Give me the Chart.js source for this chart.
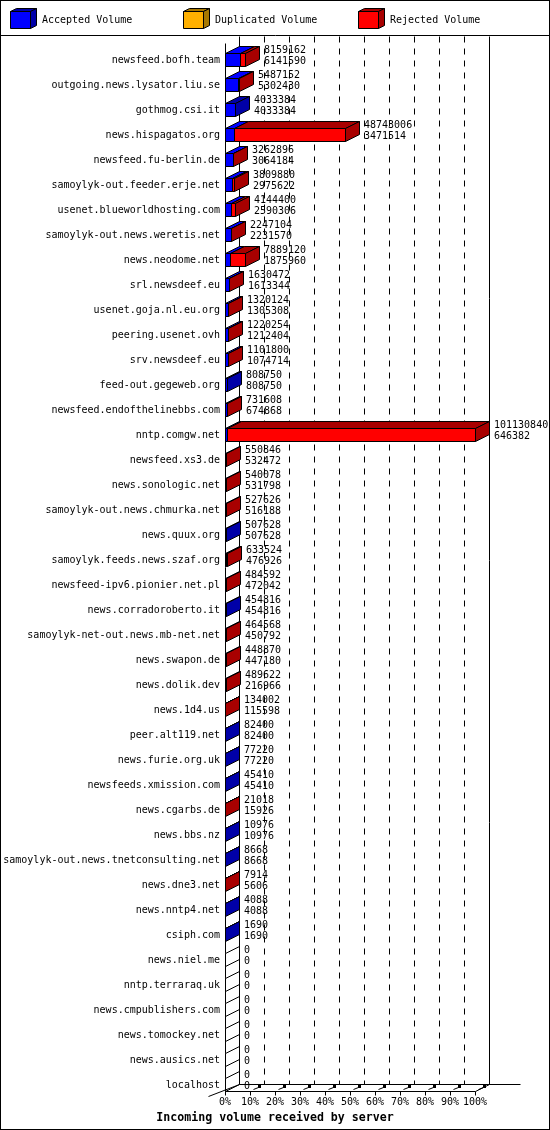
<!DOCTYPE html>
<html>
<head>
<meta charset="utf-8">
<script src="https://cdn.jsdelivr.net/npm/chart.js@4.4.0/dist/chart.umd.min.js"></script>
<style>
  html,
  body {
    margin: 0;
    padding: 0;
    background: #fff;
  }
  canvas {
    display: block;
  }
</style>
</head>
<body>
<canvas id="volumeChart" width="550" height="1130"></canvas>
<script>
const serverNames = [
  "newsfeed.bofh.team",
  "outgoing.news.lysator.liu.se",
  "gothmog.csi.it",
  "news.hispagatos.org",
  "newsfeed.fu-berlin.de",
  "samoylyk-out.feeder.erje.net",
  "usenet.blueworldhosting.com",
  "samoylyk-out.news.weretis.net",
  "news.neodome.net",
  "srl.newsdeef.eu",
  "usenet.goja.nl.eu.org",
  "peering.usenet.ovh",
  "srv.newsdeef.eu",
  "feed-out.gegeweb.org",
  "newsfeed.endofthelinebbs.com",
  "nntp.comgw.net",
  "newsfeed.xs3.de",
  "news.sonologic.net",
  "samoylyk-out.news.chmurka.net",
  "news.quux.org",
  "samoylyk.feeds.news.szaf.org",
  "newsfeed-ipv6.pionier.net.pl",
  "news.corradoroberto.it",
  "samoylyk-net-out.news.mb-net.net",
  "news.swapon.de",
  "news.dolik.dev",
  "news.1d4.us",
  "peer.alt119.net",
  "news.furie.org.uk",
  "newsfeeds.xmission.com",
  "news.cgarbs.de",
  "news.bbs.nz",
  "samoylyk-out.news.tnetconsulting.net",
  "news.dne3.net",
  "news.nntp4.net",
  "csiph.com",
  "news.niel.me",
  "nntp.terraraq.uk",
  "news.cmpublishers.com",
  "news.tomockey.net",
  "news.ausics.net",
  "localhost",
];

// first number printed next to each bar
const totalVolume = [
  8159162, 5487152, 4033384, 48743006, 3262896, 3809880, 4144400, 2247104,
  7889120, 1630472, 1320124, 1220254, 1101800, 808750, 731608, 101130840,
  550846, 540078, 527626, 507628, 633524, 484592, 454816, 464568, 448870,
  489622, 134002, 82400, 77220, 45410, 21018, 10976, 8668, 7914, 4088, 1690,
  0, 0, 0, 0, 0, 0,
];

// second number printed next to each bar
const acceptedVolume = [
  6141590, 5302430, 4033384, 3471514, 3064184, 2975622, 2590306, 2231570,
  1875960, 1613344, 1305308, 1212404, 1074714, 808750, 674868, 646382,
  532472, 531798, 516188, 507628, 476926, 472042, 454816, 450792, 447180,
  216966, 115598, 82400, 77220, 45410, 15926, 10976, 8668, 5606, 4088, 1690,
  0, 0, 0, 0, 0, 0,
];

const duplicatedVolume = [
  0, 0, 0, 0, 0, 0, 0, 0, 0, 0, 0, 0, 0, 0, 0, 0, 0, 0, 0, 0, 0,
  0, 0, 0, 0, 0, 0, 0, 0, 0, 0, 0, 0, 0, 0, 0, 0, 0, 0, 0, 0, 0,
];

const rejectedVolume = [
  2017572, 184722, 0, 45271492, 198712, 834258, 1554094, 15534,
  6013160, 17128, 14816, 7850, 27086, 0, 56740, 100484458,
  18374, 8280, 11438, 0, 156598, 12550, 0, 13776, 1690,
  272656, 18404, 0, 0, 0, 5092, 0, 0, 2308, 0, 0,
  0, 0, 0, 0, 0, 0,
];

const percentTicks = [0, 10, 20, 30, 40, 50, 60, 70, 80, 90, 100];

const maxVolume = Math.max(...totalVolume);

const FONT = '10px "DejaVu Sans Mono", monospace';
const TITLE_FONT = 'bold 11.6px "DejaVu Sans Mono", monospace';
const BAR_THICKNESS = 13;
const DEPTH_X = 14;
const DEPTH_Y = 7;
const WALL_TOP = 36;

//helper functions
const line = (ctx, x1, y1, x2, y2, dash = []) => {
  ctx.save();
  ctx.setLineDash(dash);
  ctx.strokeStyle = "#000";
  ctx.lineWidth = 1;
  ctx.beginPath();
  ctx.moveTo(x1 + 0.5, y1 + 0.5);
  ctx.lineTo(x2 + 0.5, y2 + 0.5);
  ctx.stroke();
  ctx.restore();
};

const shape = (ctx, points, fill) => {
  ctx.beginPath();
  points.forEach(([px, py], i) =>
    i === 0 ? ctx.moveTo(px + 0.5, py + 0.5) : ctx.lineTo(px + 0.5, py + 0.5)
  );
  ctx.closePath();
  if (fill) {
    ctx.fillStyle = fill;
    ctx.fill();
  }
  ctx.strokeStyle = "#000";
  ctx.lineWidth = 1;
  ctx.stroke();
};

const drawBox = (ctx, xa, xb, top, bottom, front, dark, isLast) => {
  shape(ctx, [[xa, top], [xb, top], [xb, bottom], [xa, bottom]], front);
  shape(
    ctx,
    [[xa, top], [xb, top], [xb + DEPTH_X, top - DEPTH_Y], [xa + DEPTH_X, top - DEPTH_Y]],
    isLast ? dark : front
  );
  if (isLast) {
    shape(
      ctx,
      [[xb, top], [xb + DEPTH_X, top - DEPTH_Y], [xb + DEPTH_X, bottom - DEPTH_Y], [xb, bottom]],
      dark
    );
  }
};

const floorY = (chart) =>
  Math.round(
    chart.scales.y.getPixelForValue(serverNames.length - 1) + BAR_THICKNESS / 2
  );

const volume3d = {
  id: "volume3d",
  beforeDraw(chart) {
    const { ctx, width, height } = chart;
    ctx.save();
    ctx.fillStyle = "#fff";
    ctx.fillRect(0, 0, width, height);
    ctx.restore();
  },
  beforeDatasetsDraw(chart) {
    const { ctx } = chart;
    const xs = chart.scales.x;
    const x0 = Math.round(xs.getPixelForValue(0));
    const floorFront = floorY(chart);
    const floorBack = floorFront - DEPTH_Y;

    // back wall grid
    percentTicks.slice(1).forEach((p) => {
      const gx = Math.round(xs.getPixelForValue((maxVolume * p) / 100)) + DEPTH_X;
      line(ctx, gx, WALL_TOP, gx, floorBack, p === 100 ? [] : [6, 6]);
    });
    line(ctx, x0 + DEPTH_X, WALL_TOP, x0 + DEPTH_X, floorBack);
    line(ctx, x0, WALL_TOP + DEPTH_Y, x0, floorFront);
  },
  afterDatasetsDraw(chart) {
    const { ctx } = chart;
    const xs = chart.scales.x;
    const datasets = chart.data.datasets;
    const x0 = Math.round(xs.getPixelForValue(0));

    ctx.save();
    serverNames.forEach((name, j) => {
      const elements = datasets.map((ds, i) => chart.getDatasetMeta(i).data[j]);
      const rowY = elements[0].y;
      const top = Math.round(rowY - elements[0].height / 2);
      const bottom = top + Math.round(elements[0].height);

      const segments = elements
        .map((el, i) => ({
          xa: Math.round(el.base),
          xb: Math.round(el.x),
          ds: datasets[i],
          value: datasets[i].data[j],
        }))
        .filter((s) => s.value > 0);

      if (segments.length === 0) {
        shape(ctx, [
          [x0, top],
          [x0 + DEPTH_X, top - DEPTH_Y],
          [x0 + DEPTH_X, bottom - DEPTH_Y],
          [x0, bottom],
        ]);
      } else {
        segments.forEach((s, k) =>
          drawBox(
            ctx,
            s.xa,
            s.xb,
            top,
            bottom,
            s.ds.frontColor,
            s.ds.sideColor,
            k === segments.length - 1
          )
        );
      }

      ctx.fillStyle = "#000";
      ctx.font = FONT;
      ctx.textBaseline = "middle";
      ctx.textAlign = "right";
      ctx.fillText(name, 220, Math.round(rowY) + 0.5);

      const textX = Math.round(xs.getPixelForValue(totalVolume[j])) + DEPTH_X + 5;
      ctx.textAlign = "left";
      ctx.fillText(String(totalVolume[j]), textX, Math.round(rowY - 9.5));
      ctx.fillText(String(acceptedVolume[j]), textX, Math.round(rowY + 1.5));
    });
    ctx.restore();
  },
  afterDraw(chart) {
    const { ctx, width, height } = chart;
    const xs = chart.scales.x;
    const x0 = Math.round(xs.getPixelForValue(0));
    const x100 = Math.round(xs.getPixelForValue(maxVolume));
    const floorFront = floorY(chart);
    const floorBack = floorFront - DEPTH_Y;

    // floor
    line(ctx, x0, floorFront, x100, floorFront);
    line(ctx, x0 + DEPTH_X, floorBack, x100 + DEPTH_X + 31, floorBack);
    line(ctx, x100, floorFront, x100 + DEPTH_X, floorBack);
    line(ctx, x0 - 17, floorFront + 5, x0 + DEPTH_X, floorBack);

    ctx.save();
    ctx.fillStyle = "#000";
    ctx.font = FONT;
    ctx.textAlign = "center";
    ctx.textBaseline = "middle";
    percentTicks.forEach((p) => {
      const tx = Math.round(xs.getPixelForValue((maxVolume * p) / 100));
      line(ctx, tx, floorFront, tx, floorFront + 4);
      if (p > 0) {
        line(ctx, tx + 3, floorFront - 2, tx + 8, floorFront - 4);
        ctx.fillRect(tx + 8, floorFront - 6, 3, 3);
      }
      ctx.fillText(`${p}%`, tx, floorFront + 11);
    });

    ctx.font = TITLE_FONT;
    ctx.fillText("Incoming volume received by server", width / 2, floorFront + 27);

    // legend
    const legendX = [10, 183, 358];
    chart.data.datasets.forEach((ds, i) => {
      const cx = legendX[i];
      shape(ctx, [[cx, 11], [cx + 20, 11], [cx + 20, 28], [cx, 28]], ds.frontColor);
      shape(ctx, [[cx, 11], [cx + 20, 11], [cx + 26, 8], [cx + 6, 8]], ds.sideColor);
      shape(ctx, [[cx + 20, 11], [cx + 26, 8], [cx + 26, 25], [cx + 20, 28]], ds.sideColor);
      ctx.fillStyle = "#000";
      ctx.font = FONT;
      ctx.textAlign = "left";
      ctx.fillText(ds.label, cx + 32, 20);
    });
    ctx.restore();

    line(ctx, 0, 35, width, 35);
    ctx.save();
    ctx.strokeStyle = "#000";
    ctx.strokeRect(0.5, 0.5, width - 1, height - 1);
    ctx.restore();
  },
};

const chartCanvas = document.getElementById("volumeChart");

new Chart(chartCanvas, {
  type: "bar",
  data: {
    labels: serverNames,
    datasets: [
      {
        label: "Accepted Volume",
        data: acceptedVolume,
        frontColor: "#0000ff",
        sideColor: "#0000a8",
      },
      {
        label: "Duplicated Volume",
        data: duplicatedVolume,
        frontColor: "#ffb000",
        sideColor: "#a87800",
      },
      {
        label: "Rejected Volume",
        data: rejectedVolume,
        frontColor: "#ff0000",
        sideColor: "#a80000",
      },
    ],
  },
  options: {
    indexAxis: "y",
    responsive: false,
    animation: false,
    events: [],
    layout: {
      padding: { left: 225, right: 75, top: 47, bottom: 33 },
    },
    datasets: {
      bar: {
        barThickness: BAR_THICKNESS,
        backgroundColor: "rgba(0,0,0,0)",
        borderWidth: 0,
      },
    },
    plugins: {
      legend: { display: false },
      tooltip: { enabled: false },
    },
    scales: {
      x: { stacked: true, min: 0, max: maxVolume, display: false },
      y: { stacked: true, display: false },
    },
  },
  plugins: [volume3d],
});
</script>
</body>
</html>
